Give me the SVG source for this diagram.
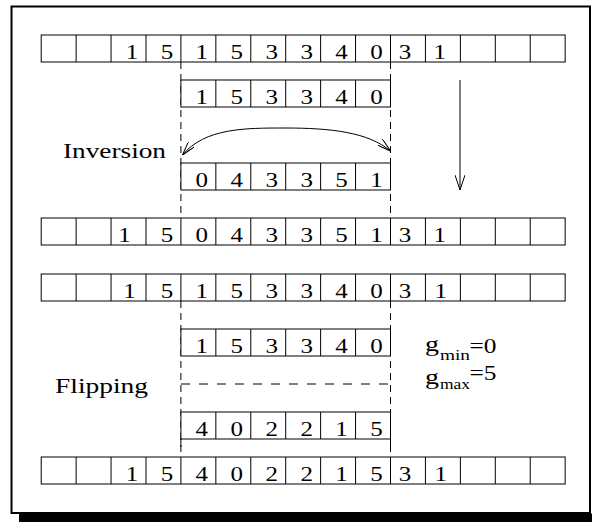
<svg xmlns="http://www.w3.org/2000/svg" width="592" height="522" viewBox="0 0 592 522">
<style>
.cell{fill:#fff;stroke:#000;stroke-width:1}
.sep{fill:none;stroke:#000;stroke-width:1}
.d{font-family:"Liberation Serif","Times New Roman",serif;font-size:20px;text-anchor:middle;fill:#000}
.lbl{font-family:"Liberation Serif","Times New Roman",serif;font-size:21px;fill:#000}
.sub{font-family:"Liberation Serif","Times New Roman",serif;font-size:15px;fill:#000}
.dash{fill:none;stroke:#000;stroke-width:1;stroke-dasharray:7 5}
.hdash{fill:none;stroke:#000;stroke-width:1;stroke-dasharray:9 9}
.arr{fill:none;stroke:#000;stroke-width:1}
</style>
<defs>
<marker id="v" viewBox="0 0 14 8" refX="14" refY="4" markerWidth="14" markerHeight="8" markerUnits="userSpaceOnUse" orient="auto-start-reverse">
<path d="M0,0 L14,4 L0,8" fill="none" stroke="#000" stroke-width="1"/>
</marker>
<marker id="vd" viewBox="0 0 15 10" refX="15" refY="5" markerWidth="15" markerHeight="10" markerUnits="userSpaceOnUse" orient="auto">
<path d="M0,0 L15,5 L0,10" fill="none" stroke="#000" stroke-width="1"/>
</marker>
</defs>
<rect width="592" height="522" fill="#fff"/>
<g id="frame">
<rect x="11.5" y="6.5" width="578.5" height="506.5" fill="none" stroke="#000" stroke-width="2"/>
<rect x="19" y="513.5" width="573" height="8.5" fill="#000"/>
</g>

<g id="connectors">
<path class="dash" d="M180.9,62 V218 M390.5,62 V218 M180.9,301 V457 M390.5,301 V457"/>
<path class="hdash" d="M181,384 H390"/>
<path class="sep" d="M180.9,439 V447 M390.5,439 V447"/>
<path class="arr" d="M182.5,155 C205,128 245,128 285,128 C330,128 368,132 390.5,151" marker-start="url(#v)" marker-end="url(#v)"/>
<line class="arr" x1="460" y1="80" x2="460" y2="190" marker-end="url(#vd)"/>
</g>

<g id="row1">
<rect class="cell" x="41.2" y="35" width="523.95" height="27"/>
<path class="sep" d="M76.13,35V62M111.06,35V62M145.99,35V62M180.92,35V62M215.85,35V62M250.78,35V62M285.71,35V62M320.64,35V62M355.57,35V62M390.5,35V62M425.43,35V62M460.36,35V62M495.29,35V62M530.22,35V62"/>
<g transform="translate(0 59) scale(1.25 1)">
<text class="d" x="105.6">1</text><text class="d" x="133.6">5</text><text class="d" x="161.5">1</text><text class="d" x="189.4">5</text><text class="d" x="217.4">3</text><text class="d" x="245.4">3</text><text class="d" x="273.3">4</text><text class="d" x="301.2">0</text><text class="d" x="324">3</text><text class="d" x="351.9">1</text>
</g>
</g>

<g id="segment1">
<rect class="cell" x="180.92" y="80" width="209.58" height="27"/>
<path class="sep" d="M215.85,80V107M250.78,80V107M285.71,80V107M320.64,80V107M355.57,80V107"/>
<g transform="translate(0 104) scale(1.25 1)">
<text class="d" x="161.5">1</text><text class="d" x="189.4">5</text><text class="d" x="217.4">3</text><text class="d" x="245.4">3</text><text class="d" x="273.3">4</text><text class="d" x="301.2">0</text>
</g>
</g>

<g id="label-inversion">
<text class="lbl" x="63" y="158" textLength="103" lengthAdjust="spacingAndGlyphs">Inversion</text>
</g>

<g id="segment2">
<rect class="cell" x="180.92" y="163" width="209.58" height="27"/>
<path class="sep" d="M215.85,163V190M250.78,163V190M285.71,163V190M320.64,163V190M355.57,163V190"/>
<g transform="translate(0 187) scale(1.25 1)">
<text class="d" x="161.5">0</text><text class="d" x="189.4">4</text><text class="d" x="217.4">3</text><text class="d" x="245.4">3</text><text class="d" x="273.3">5</text><text class="d" x="301.2">1</text>
</g>
</g>

<g id="row2">
<rect class="cell" x="41.2" y="218" width="523.95" height="27"/>
<path class="sep" d="M76.13,218V245M111.06,218V245M145.99,218V245M180.92,218V245M215.85,218V245M250.78,218V245M285.71,218V245M320.64,218V245M355.57,218V245M390.5,218V245M425.43,218V245M460.36,218V245M495.29,218V245M530.22,218V245"/>
<g transform="translate(0 242) scale(1.25 1)">
<text class="d" x="99.6">1</text><text class="d" x="133.6">5</text><text class="d" x="161.5">0</text><text class="d" x="189.4">4</text><text class="d" x="217.4">3</text><text class="d" x="245.4">3</text><text class="d" x="273.3">5</text><text class="d" x="301.2">1</text><text class="d" x="324">3</text><text class="d" x="351.9">1</text>
</g>
</g>

<g id="row3">
<rect class="cell" x="41.2" y="274" width="523.95" height="27"/>
<path class="sep" d="M76.13,274V301M111.06,274V301M145.99,274V301M180.92,274V301M215.85,274V301M250.78,274V301M285.71,274V301M320.64,274V301M355.57,274V301M390.5,274V301M425.43,274V301M460.36,274V301M495.29,274V301M530.22,274V301"/>
<g transform="translate(0 298) scale(1.25 1)">
<text class="d" x="103.6">1</text><text class="d" x="133.6">5</text><text class="d" x="161.5">1</text><text class="d" x="189.4">5</text><text class="d" x="217.4">3</text><text class="d" x="245.4">3</text><text class="d" x="273.3">4</text><text class="d" x="301.2">0</text><text class="d" x="324">3</text><text class="d" x="352.7">1</text>
</g>
</g>

<g id="segment3">
<rect class="cell" x="180.92" y="329" width="209.58" height="27"/>
<path class="sep" d="M215.85,329V356M250.78,329V356M285.71,329V356M320.64,329V356M355.57,329V356"/>
<g transform="translate(0 353) scale(1.25 1)">
<text class="d" x="161.5">1</text><text class="d" x="189.4">5</text><text class="d" x="217.4">3</text><text class="d" x="245.4">3</text><text class="d" x="273.3">4</text><text class="d" x="301.2">0</text>
</g>
</g>

<g id="label-flipping">
<text class="lbl" x="55" y="393" textLength="93" lengthAdjust="spacingAndGlyphs">Flipping</text>
</g>

<g id="label-gmin">
<text class="lbl" x="425" y="351" textLength="14" lengthAdjust="spacingAndGlyphs">g</text>
<text class="sub" x="440" y="360" textLength="30" lengthAdjust="spacingAndGlyphs">min</text>
<text class="lbl" x="469.5" y="352.5" textLength="27" lengthAdjust="spacingAndGlyphs">=0</text>
</g>
<g id="label-gmax">
<text class="lbl" x="425" y="384" textLength="14" lengthAdjust="spacingAndGlyphs">g</text>
<text class="sub" x="440" y="389" textLength="30" lengthAdjust="spacingAndGlyphs">max</text>
<text class="lbl" x="469.5" y="380" textLength="27" lengthAdjust="spacingAndGlyphs">=5</text>
</g>

<g id="segment4">
<rect class="cell" x="180.92" y="412" width="209.58" height="27"/>
<path class="sep" d="M215.85,412V439M250.78,412V439M285.71,412V439M320.64,412V439M355.57,412V439"/>
<g transform="translate(0 436) scale(1.25 1)">
<text class="d" x="161.5">4</text><text class="d" x="189.4">0</text><text class="d" x="217.4">2</text><text class="d" x="245.4">2</text><text class="d" x="273.3">1</text><text class="d" x="301.2">5</text>
</g>
</g>

<g id="row4">
<rect class="cell" x="41.2" y="457" width="523.95" height="27"/>
<path class="sep" d="M76.13,457V484M111.06,457V484M145.99,457V484M180.92,457V484M215.85,457V484M250.78,457V484M285.71,457V484M320.64,457V484M355.57,457V484M390.5,457V484M425.43,457V484M460.36,457V484M495.29,457V484M530.22,457V484"/>
<g transform="translate(0 481) scale(1.25 1)">
<text class="d" x="105.6">1</text><text class="d" x="133.6">5</text><text class="d" x="161.5">4</text><text class="d" x="189.4">0</text><text class="d" x="217.4">2</text><text class="d" x="245.4">2</text><text class="d" x="273.3">1</text><text class="d" x="301.2">5</text><text class="d" x="324">3</text><text class="d" x="352.7">1</text>
</g>
</g>
</svg>
